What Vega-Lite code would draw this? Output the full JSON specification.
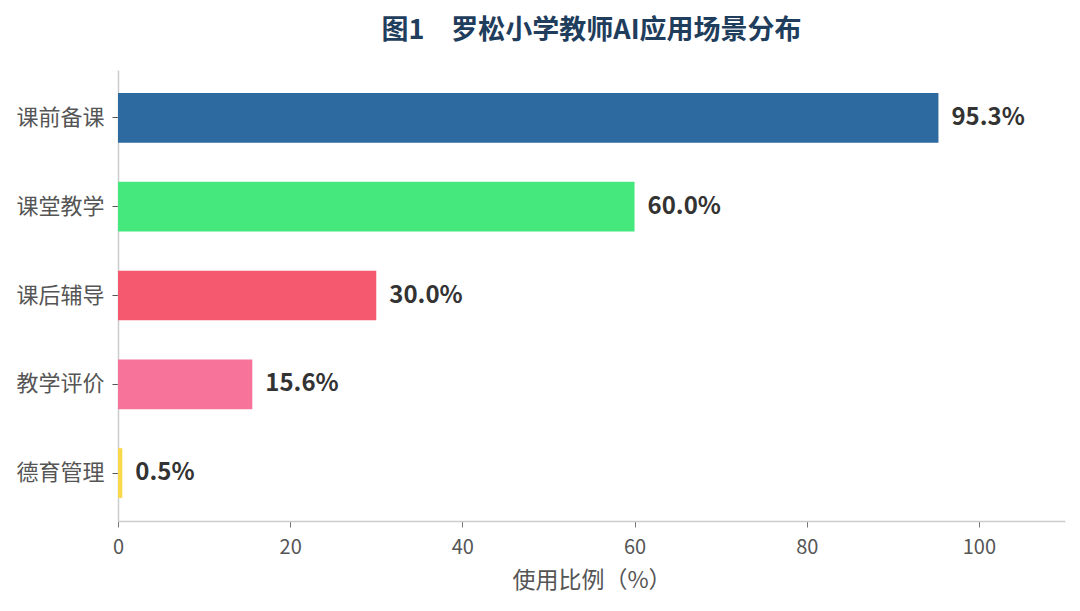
{
  "$schema": "https://vega.github.io/schema/vega-lite/v6.json",
  "width": 947,
  "height": 451,
  "autosize": {"type": "none"},
  "padding": {"left": 118, "top": 70, "right": 15, "bottom": 90},
  "title": {
    "text": "图1\u3000罗松小学教师AI应用场景分布",
    "font": "Noto Sans CJK SC",
    "fontSize": 27,
    "fontWeight": "bold",
    "color": "#1f3d5c",
    "anchor": "middle",
    "offset": 25
  },
  "data": {
    "values": [
      {"scene": "课前备课", "ratio": 95.3, "label": "95.3%"},
      {"scene": "课堂教学", "ratio": 60.0, "label": "60.0%"},
      {"scene": "课后辅导", "ratio": 30.0, "label": "30.0%"},
      {"scene": "教学评价", "ratio": 15.6, "label": "15.6%"},
      {"scene": "德育管理", "ratio": 0.5, "label": "0.5%"}
    ]
  },
  "encoding": {
    "y": {
      "field": "scene",
      "type": "nominal",
      "sort": null,
      "scale": {"paddingInner": 0.44, "paddingOuter": 0.26},
      "axis": {
        "title": null,
        "labelFont": "Noto Sans CJK SC",
        "labelFontSize": 22,
        "labelColor": "#555555",
        "labelPadding": 8,
        "tickSize": 6,
        "tickColor": "#555555",
        "domainColor": "#cccccc",
        "domainWidth": 1.5
      }
    },
    "x": {
      "field": "ratio",
      "type": "quantitative",
      "scale": {"domain": [0, 110], "nice": false},
      "axis": {
        "title": "使用比例（%）",
        "titleFont": "Noto Sans CJK SC",
        "titleFontSize": 23,
        "titleFontWeight": "normal",
        "titleColor": "#555555",
        "titlePadding": 12,
        "values": [0, 20, 40, 60, 80, 100],
        "labelFont": "Noto Sans CJK SC",
        "labelFontSize": 20,
        "labelColor": "#555555",
        "labelPadding": 10,
        "labelFlush": false,
        "tickSize": 6,
        "tickColor": "#777777",
        "domainColor": "#cccccc",
        "domainWidth": 1.5,
        "grid": false
      }
    }
  },
  "layer": [
    {
      "mark": {"type": "bar"},
      "encoding": {
        "color": {
          "field": "scene",
          "type": "nominal",
          "scale": {
            "domain": ["课前备课", "课堂教学", "课后辅导", "教学评价", "德育管理"],
            "range": ["#2d6a9f", "#44e87c", "#f4596f", "#f87399", "#f9d94a"]
          },
          "legend": null
        }
      }
    },
    {
      "mark": {
        "type": "text",
        "align": "left",
        "baseline": "middle",
        "dx": 13,
        "font": "Noto Sans CJK SC",
        "fontSize": 24,
        "fontWeight": "bold",
        "color": "#333333"
      },
      "encoding": {"text": {"field": "label"}}
    }
  ],
  "config": {"view": {"stroke": null}}
}
